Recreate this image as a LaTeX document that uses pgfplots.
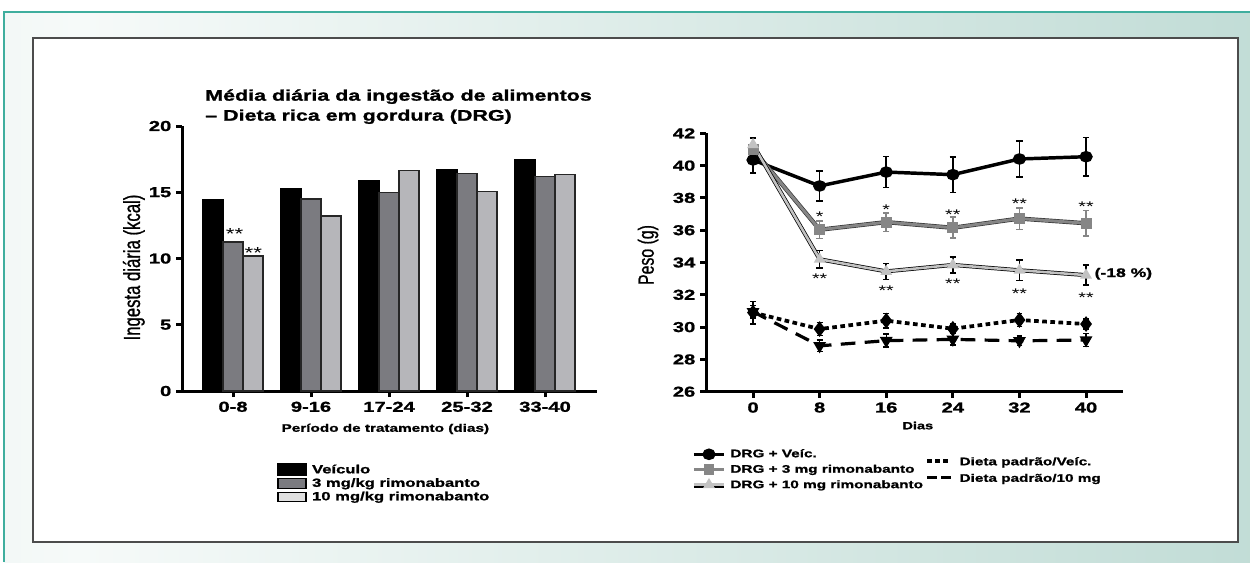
\documentclass[border=0pt]{standalone}
\usepackage{pgfplots}
\pgfplotsset{compat=1.18}
\usepackage{fontspec}
\setmainfont{Liberation Sans}[FakeStretch=1.4, BoldFeatures={FakeBold=1.2}]
\newfontfamily\yfont{Liberation Sans}[FakeStretch=0.72, FakeBold=0.8]
\definecolor{barg}{HTML}{7B7B80}
\definecolor{barl}{HTML}{B6B6BA}
\definecolor{legl}{HTML}{E0E0E0}
\definecolor{lg3}{HTML}{868686}
\definecolor{lg10}{HTML}{C2C2C2}
\definecolor{fr1}{HTML}{D8E8E3}
\definecolor{fr2}{HTML}{F6FAF9}
\definecolor{fr3}{HTML}{A6CDC4}
\definecolor{frl}{HTML}{3FAE9E}
\pgfdeclarehorizontalshading{frameshade}{100bp}{color(0bp)=(fr1); color(28bp)=(fr2); color(100bp)=(fr3)}
\pgfplotsset{
  linelegend/.style={legend image code/.code={\draw[mark repeat=2,mark phase=2,##1] plot coordinates {(0pt,0pt) (11.25pt,0pt) (22.5pt,0pt)};}},
  tenlegend/.style={legend image code/.code={\draw[black, line width=1.6pt] (0pt,-1.2pt) -- (22.5pt,-1.2pt);
     \draw[mark repeat=2,mark phase=2,##1] plot coordinates {(0pt,0.4pt) (11.25pt,0.4pt) (22.5pt,0.4pt)};}},
}
\begin{document}
\begin{tikzpicture}
\useasboundingbox (0,0) rectangle (937.5pt,421.5pt);
\fill[white] (0,0) rectangle (937.5pt,421.5pt);
\shade[shading=frameshade] (3pt,0pt) rectangle (937.5pt,412.5pt);
\draw[frl, line width=1.5pt] (3pt,0pt) -- (3pt,412.5pt) -- (937.5pt,412.5pt);
\fill[white] (24.75pt,15pt) rectangle (928.5pt,393pt);
\draw[black!70, line width=0.8pt] (24.75pt,15pt) rectangle (928.5pt,393pt);

% ---------- left chart ----------
\begin{axis}[
  at={(136.5pt,128.25pt)}, anchor=south west, scale only axis,
  width=311.25pt, height=198.75pt,
  xmin=-0.654, xmax=4.666, ymin=0, ymax=20,
  axis x line*=bottom, axis y line*=left,
  axis line style={line width=2.25pt},
  ytick={0,5,10,15,20}, xtick={0,1,2,3,4},
  xticklabels={0-8,9-16,17-24,25-32,33-40},
  tick align=outside, major tick length=4.5pt,
  tick style={line width=2.25pt, black},
  ticklabel style={font=\bfseries\fontsize{10.8}{12}\selectfont},
  /pgf/number format/assume math mode=true,
  xlabel={Período de tratamento (dias)},
  xlabel style={at={(axis description cs:0.49,-0.143)}, anchor=center, font=\bfseries\fontsize{8.2}{9}\selectfont},
  ylabel={\yfont\fontsize{17.4}{18}\selectfont Ingesta diária (kcal)},
  ylabel style={at={(axis description cs:-0.116,0.466)}, anchor=center},
  ybar, bar width=15pt, clip=false,
  legend style={at={(axis description cs:0.229,-0.272)}, anchor=north west, draw=none, fill=none,
    inner sep=0pt, row sep=0.7pt, column sep=3.5pt,
    font=\bfseries\fontsize{8.9}{10}\selectfont,
    nodes={inner sep=0.6pt, text height=6.6pt, text depth=1.6pt}},
  legend cell align=left,
]
\addplot[draw=black, fill=black, line width=1pt, bar shift=-15pt,
  legend image code/.code={\fill[black] (0pt,-4pt) rectangle (21pt,4.5pt);}]
  coordinates {(0,14.47) (1,15.25) (2,15.9) (3,16.68) (4,17.43)};
\addlegendentry{Veículo}
\addplot[draw=black!85, fill=barg, line width=1pt, bar shift=0pt,
  legend image code/.code={\draw[black, fill=barg, line width=0.8pt] (0pt,-3.5pt) rectangle (21pt,3.5pt);}]
  coordinates {(0,11.25) (1,14.5) (2,14.97) (3,16.4) (4,16.2)};
\addlegendentry{3 mg/kg rimonabanto}
\addplot[draw=black!85, fill=barl, line width=1pt, bar shift=15pt,
  legend image code/.code={\draw[black, fill=legl, line width=0.8pt] (0pt,-3.5pt) rectangle (21pt,3.5pt);}]
  coordinates {(0,10.2) (1,13.2) (2,16.65) (3,15.07) (4,16.35)};
\addlegendentry{10 mg/kg rimonabanto}
\node[anchor=north, inner sep=0pt, font=\fontsize{12}{12}\selectfont] at (axis cs:0.02,12.25) {**};
\node[anchor=north, inner sep=0pt, font=\fontsize{12}{12}\selectfont] at (axis cs:0.26,10.85) {**};
\end{axis}

\node[anchor=base west, inner sep=0pt, font=\bfseries\fontsize{11.5}{13}\selectfont] at (153.75pt,346.0pt) {Média diária da ingestão de alimentos};
\node[anchor=base west, inner sep=0pt, font=\bfseries\fontsize{11.5}{13}\selectfont] at (153.75pt,331.0pt) {– Dieta rica em gordura (DRG)};

% ---------- right chart ----------
\begin{axis}[
  at={(529.5pt,127.725pt)}, anchor=south west, scale only axis,
  width=312.75pt, height=193.8pt,
  xmin=-5.65, xmax=44.44, ymin=26, ymax=42,
  axis x line*=bottom, axis y line*=left,
  axis line style={line width=2.25pt},
  xtick={0,8,16,24,32,40}, ytick={26,28,30,32,34,36,38,40,42},
  tick align=outside, major tick length=4.5pt,
  tick style={line width=2.25pt, black},
  ticklabel style={font=\bfseries\fontsize{10.8}{12}\selectfont},
  /pgf/number format/assume math mode=true,
  xlabel={Dias},
  xlabel style={at={(axis description cs:0.508,-0.131)}, anchor=center, font=\bfseries\fontsize{7.8}{9}\selectfont},
  ylabel={\yfont\fontsize{16.5}{17}\selectfont Peso (g)},
  ylabel style={at={(axis description cs:-0.139,0.529)}, anchor=center},
  clip=false,
  legend style={at={(axis description cs:-0.0336,-0.218)}, anchor=north west, draw=none, fill=none,
    inner sep=0pt, row sep=2.6pt, column sep=3pt,
    font=\bfseries\fontsize{8.2}{9}\selectfont,
    nodes={inner sep=0.5pt, text height=6.2pt, text depth=1.8pt}},
  legend cell align=left,
]
% DRG + Veic
\addplot[black, line width=2.6pt, mark=*, mark size=3pt, mark options={xscale=1.2}, linelegend,
  error bars/.cd, y dir=both, y explicit,
  error bar style={line width=1.2pt, black},
  error mark options={rotate=90, mark size=2.4pt, line width=1.2pt, black}]
  coordinates {(0,40.35) +- (0,0.8) (8,38.74) +- (0,0.93) (16,39.6) +- (0,0.96)
               (24,39.44) +- (0,1.1) (32,40.41) +- (0,1.1) (40,40.55) +- (0,1.2)};
\addlegendentry{DRG + Veíc.}
% DRG + 3 mg
\addplot[black!80, line width=3.2pt, forget plot]
  coordinates {(0,41.0) (8,36.03) (16,36.5) (24,36.15) (32,36.72) (40,36.43)};
\addplot[lg3, line width=2.2pt, mark=square*, mark size=3pt, mark options={fill=lg3, draw=lg3}, linelegend,
  error bars/.cd, y dir=both, y explicit,
  error bar style={line width=1.2pt, lg3},
  error mark options={rotate=90, mark size=2.4pt, line width=1.2pt, lg3}]
  coordinates {(0,41.0) +- (0,0.35) (8,36.03) +- (0,0.55) (16,36.5) +- (0,0.57)
               (24,36.15) +- (0,0.65) (32,36.72) +- (0,0.67) (40,36.43) +- (0,0.8)};
\addlegendentry{DRG + 3 mg rimonabanto}
% DRG + 10 mg
\addplot[black, line width=3.0pt, forget plot]
  coordinates {(0,41.3) (8,34.2) (16,33.45) (24,33.85) (32,33.52) (40,33.22)};
\addplot[lg10, line width=1.9pt, mark=triangle*, mark size=3.2pt, mark options={fill=lg10, draw=lg10}, tenlegend,
  error bars/.cd, y dir=both, y explicit,
  error bar style={line width=1.2pt, black},
  error mark options={rotate=90, mark size=2.4pt, line width=1.2pt, black}]
  coordinates {(0,41.3) +- (0,0.4) (8,34.2) +- (0,0.55) (16,33.45) +- (0,0.5)
               (24,33.85) +- (0,0.5) (32,33.52) +- (0,0.64) (40,33.22) +- (0,0.62)};
\addlegendentry{DRG + 10 mg rimonabanto}
% asterisks
\begin{scope}[every node/.style={anchor=north, inner sep=0pt, font=\fontsize{10.5}{10}\selectfont}]
\node at (axis cs:8,37.13) {*};
\node at (axis cs:16,37.6) {*};
\node at (axis cs:24,37.25) {**};
\node at (axis cs:32,37.97) {**};
\node at (axis cs:40,37.77) {**};
\node at (axis cs:8,33.33) {**};
\node at (axis cs:16,32.56) {**};
\node at (axis cs:24,32.98) {**};
\node at (axis cs:32,32.4) {**};
\node at (axis cs:40,32.13) {**};
\end{scope}
\node[anchor=west, inner sep=0pt, font=\bfseries\fontsize{9.4}{10}\selectfont] at (axis cs:41.0,33.3) {(-18 \%)};
\end{axis}

% Dieta padrao overlay
\begin{axis}[
  at={(529.5pt,127.725pt)}, anchor=south west, scale only axis,
  width=312.75pt, height=193.8pt,
  xmin=-5.65, xmax=44.44, ymin=26, ymax=42,
  hide axis, clip=false,
  legend style={at={(axis description cs:0.525,-0.249)}, anchor=north west, draw=none, fill=none,
    inner sep=0pt, row sep=3.4pt, column sep=4.5pt,
    font=\bfseries\fontsize{8.2}{9}\selectfont,
    nodes={inner sep=0.5pt, text height=6.2pt, text depth=1.8pt}},
  legend cell align=left,
]
\addplot[black, line width=2.8pt, dash pattern=on 3.5pt off 2.6pt, mark=diamond*, mark size=3.6pt,
  mark options={solid, fill=black},
  legend image code/.code={\draw[black, line width=2.8pt, dash pattern=on 3.5pt off 2.6pt] (0pt,1pt) -- (18pt,1pt);},
  error bars/.cd, y dir=both, y explicit,
  error bar style={line width=1.1pt, black, solid},
  error mark options={rotate=90, mark size=2.2pt, line width=1.1pt, black, solid}]
  coordinates {(0,30.9) +- (0,0.7) (8,29.88) +- (0,0.4) (16,30.4) +- (0,0.45)
               (24,29.9) +- (0,0.3) (32,30.44) +- (0,0.4) (40,30.19) +- (0,0.3)};
\addlegendentry{Dieta padrão/Veíc.}
\addplot[black, line width=2.4pt, dash pattern=on 11pt off 7pt, mark=triangle*, mark size=3.2pt,
  mark options={solid, fill=black, rotate=180},
  legend image code/.code={\draw[black, line width=2.4pt, dash pattern=on 7.5pt off 3pt] (0pt,1pt) -- (18pt,1pt);},
  error bars/.cd, y dir=both, y explicit,
  error bar style={line width=1.1pt, black, solid},
  error mark options={rotate=90, mark size=2.2pt, line width=1.1pt, black, solid}]
  coordinates {(0,30.95) +- (0,0.4) (8,28.84) +- (0,0.35) (16,29.16) +- (0,0.4)
               (24,29.24) +- (0,0.35) (32,29.15) +- (0,0.3) (40,29.2) +- (0,0.4)};
\addlegendentry{Dieta padrão/10 mg}
\end{axis}
\end{tikzpicture}
\end{document}
